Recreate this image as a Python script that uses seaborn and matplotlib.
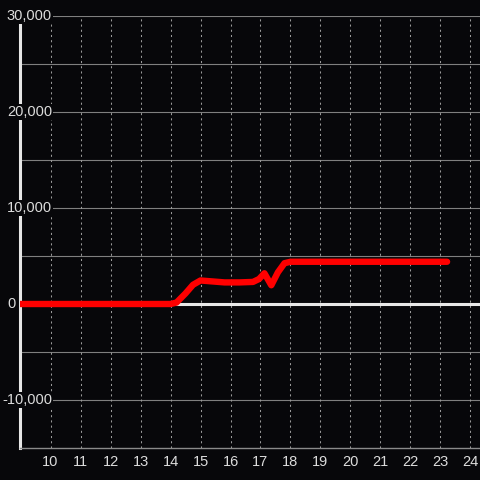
import matplotlib
matplotlib.use("Agg")
import matplotlib.pyplot as plt
import seaborn as sns
import pandas as pd

# ---- data ----
hours = [9.0, 10, 11, 12, 13, 14.0, 14.2, 14.5, 14.75, 15.0, 15.4, 15.8, 16.3,
         16.75, 16.95, 17.13, 17.36, 17.58, 17.8, 18.0, 19, 20, 21, 22, 23.22]
values = [0, 0, 0, 0, 0, 0, 150, 1100, 2000, 2450, 2350, 2250, 2250,
          2300, 2600, 3200, 1950, 3300, 4250, 4400, 4400, 4400, 4400, 4400, 4400]
x_ticks = [10, 11, 12, 13, 14, 15, 16, 17, 18, 19, 20, 21, 22, 23, 24]
x_tick_labels = [str(t) for t in x_ticks]
y_ticks = [30000, 20000, 10000, 0, -10000]
y_tick_labels = ["30,000", "20,000", "10,000", "0", "-10,000"]
y_grid = [30000, 25000, 20000, 15000, 10000, 5000, -5000, -10000]

BG = "#07070a"
TXT = "#dcdcdc"

sns.set_theme(style="dark")
plt.rcParams["font.family"] = ["Liberation Sans", "DejaVu Sans"]

fig = plt.figure(figsize=(4.8, 4.8), dpi=100, facecolor=BG)
ax = fig.add_axes([20 / 480, 32 / 480, 460 / 480, 432 / 480])
ax.set_facecolor(BG)

df = pd.DataFrame({"hour": hours, "value": values})

ax.set_xlim(8.983, 24.317)
ax.set_ylim(-15000, 30000)

# grid
for g in y_grid:
    ax.axhline(g, color="#7f7f7f", lw=0.8, zorder=1)
for t in x_ticks:
    ax.axvline(t, color="#9a9a9a", lw=0.75, dashes=(2, 3), zorder=1)
ax.axhline(0, color="#e8e8e8", lw=2.2, zorder=2)

sns.lineplot(data=df, x="hour", y="value", ax=ax, color="#ff0000",
             linewidth=4.6, estimator=None, sort=False, zorder=4)
for line in ax.get_lines():
    line.set_solid_joinstyle("round")

# spines
for s in ["top", "right"]:
    ax.spines[s].set_visible(False)
ax.spines["left"].set_color("#e6e6e6")
ax.spines["left"].set_linewidth(2.2)
ax.spines["bottom"].set_color("#8a8a8a")
ax.spines["bottom"].set_linewidth(1.0)

ax.set_xticks(x_ticks)
ax.set_xticklabels(x_tick_labels, color=TXT, fontsize=10.5)
ax.tick_params(axis="x", length=0, pad=5)
ax.set_yticks([])
ax.set_xlabel("")
ax.set_ylabel("")
ax.grid(False)

tr = ax.get_yaxis_transform()
for v, lab in zip(y_ticks, y_tick_labels):
    xpos = (16 - 20) / 460 if v == 0 else (52 - 20) / 460
    ax.text(xpos, v, lab, transform=tr, ha="right", va="center", color=TXT,
            fontsize=10.5, clip_on=False, zorder=5,
            bbox=dict(facecolor=BG, edgecolor="none", pad=1.0))

fig.savefig("out.png", dpi=100, facecolor=BG)
